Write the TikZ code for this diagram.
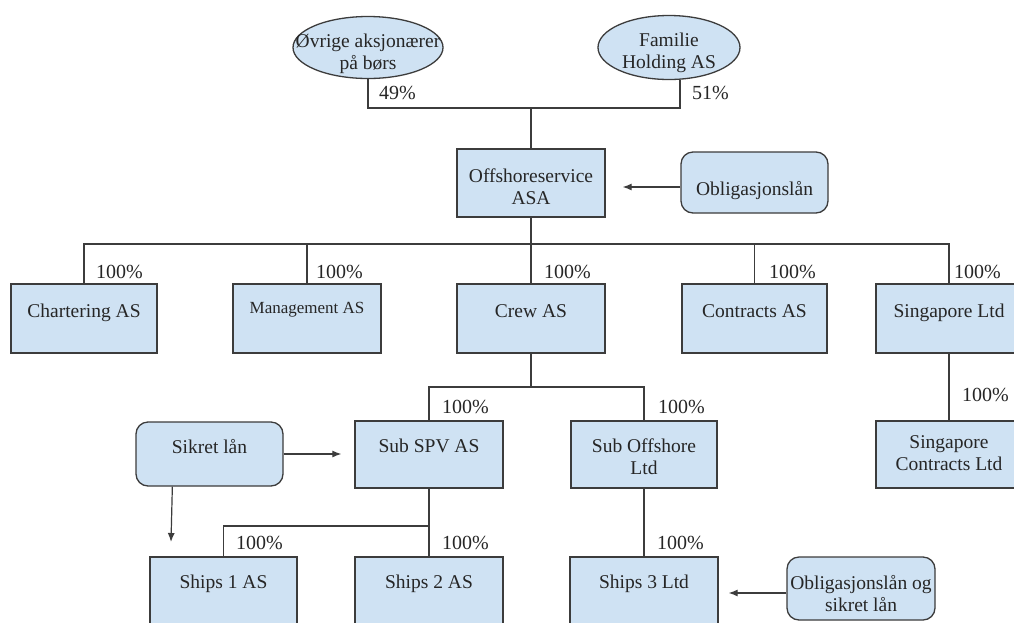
\documentclass[tikz,border=0pt]{standalone}
\usepackage{fontspec}
\setmainfont{Liberation Serif}
\usetikzlibrary{shapes.geometric,arrows.meta,calc}
\definecolor{boxfill}{HTML}{CFE2F3}
\definecolor{edge}{HTML}{3C3C3C}
\definecolor{ink}{HTML}{262626}
\begin{document}
\begin{tikzpicture}[x=1pt,y=-1pt,
  company/.style={draw=edge, line width=1.3pt, fill=boxfill, rectangle, inner sep=0pt,
                  minimum width=148pt, minimum height=68pt},
  lender/.style={company, rounded corners=12pt, minimum height=63pt},
  owner/.style={draw=edge, line width=1.3pt, fill=boxfill, ellipse, inner sep=0pt},
  boxtext/.style={font=\fontsize{19.5}{22}\selectfont, text=ink, align=center, inner sep=0pt,
                  execute at begin node=\strut, execute at end node=\strut},
  share/.style={font=\fontsize{20}{22}\selectfont, text=ink, anchor=west, inner sep=0pt},
  link/.style={draw=edge, line width=1.2pt},
  loan/.style={link, -{Latex[length=9pt,width=7pt]}},
]
\fill[white] (0,0) rectangle (1014,622);
\clip (0,0) rectangle (1014,622);

% owners
\node[owner, minimum width=150pt, minimum height=62pt] (ovr) at (368,47.5) {};
\node[owner, minimum width=142pt, minimum height=64pt] (fam) at (669,47.5) {};

% parent and bond
\node[company] (asa) at (531,183) {};
\node[lender, minimum width=147pt, minimum height=61pt] (obl) at (754.5,182.5) {};

% first level subsidiaries
\node[company, minimum width=146pt, minimum height=69pt] (chart) at (84,318.5) {};
\node[company, minimum height=69pt] (mgmt) at (307,318.5) {};
\node[company, minimum height=69pt] (crew) at (531,318.5) {};
\node[company, minimum width=145pt, minimum height=69pt] (contr) at (754.5,318.5) {};
\node[company, minimum width=146pt, minimum height=69pt] (sing) at (949,318.5) {};

% second level
\node[company, minimum height=67pt] (spv) at (429,454.5) {};
\node[company, minimum width=146pt, minimum height=67pt] (subo) at (644,454.5) {};
\node[company, minimum width=146pt, minimum height=67pt] (singc) at (949,454.5) {};
\node[lender, minimum width=147pt, minimum height=64pt] (sik) at (209.5,454) {};

% ship owning companies
\node[company, minimum width=147pt] (ship1) at (223.5,591) {};
\node[company] (ship2) at (429,591) {};
\node[company] (ship3) at (644,591) {};
\node[lender, minimum width=148pt, minimum height=63pt] (obsik) at (861,588.5) {};

% texts
\node[boxtext] (ovrT) at ($(ovr)+(0,7.5)$) {Øvrige aksjonærer\\på børs};
\node[boxtext] (famT) at ($(fam)+(0,6.5)$) {Familie\\Holding AS};
\node[boxtext] (asaT) at ($(asa)+(0,7)$) {Offshoreservice\\ASA};
\node[boxtext] (oblT) at ($(obl)+(0,8.5)$) {Obligasjonslån};
\node[boxtext] (chartT) at ($(chart)+(0,6.5)$) {Chartering AS\\};
\node[boxtext, font=\fontsize{17}{22}\selectfont] (mgmtT) at ($(mgmt)+(0,3.7)$) {Management AS\\};
\node[boxtext] (crewT) at ($(crew)+(0,6.5)$) {Crew AS\\};
\node[boxtext] (contrT) at ($(contr)+(0,6.5)$) {Contracts AS\\};
\node[boxtext] (singT) at ($(sing)+(0,6.5)$) {Singapore Ltd\\};
\node[boxtext] (spvT) at ($(spv)+(0,5.5)$) {Sub SPV AS\\};
\node[boxtext] (suboT) at ($(subo)+(0,5.5)$) {Sub Offshore\\Ltd};
\node[boxtext] (singcT) at ($(singc)+(0,1.5)$) {Singapore\\Contracts Ltd};
\node[boxtext] (sikT) at ($(sik)+(0,7)$) {Sikret lån\\};
\node[boxtext] (ship1T) at ($(ship1)+(0,5)$) {Ships 1 AS\\};
\node[boxtext] (ship2T) at ($(ship2)+(0,5)$) {Ships 2 AS\\};
\node[boxtext] (ship3T) at ($(ship3)+(0,5)$) {Ships 3 Ltd\\};
\node[boxtext] (obsikT) at ($(obsik)+(0,8.5)$) {Obligasjonslån og\\sikret lån};

% ownership shares
\node[share] (p49) at (379,93) {49\%};
\node[share] (p51) at (692,93) {51\%};
\node[share] (pchart) at (96,272) {100\%};
\node[share] (pmgmt) at (316,272) {100\%};
\node[share] (pcrew) at (544,272) {100\%};
\node[share] (pcontr) at (769,272) {100\%};
\node[share] (psing) at (954,272) {100\%};
\node[share] (pspv) at (442,407) {100\%};
\node[share] (psubo) at (658,407) {100\%};
\node[share] (psingc) at (962,395) {100\%};
\node[share] (pship1) at (236,543) {100\%};
\node[share] (pship2) at (442,543) {100\%};
\node[share] (pship3) at (657,543) {100\%};

% ownership lines
\coordinate (ownj) at (531,108);
\draw[link] (ovr.south) |- (ownj) -| ($(fam.south)+(11,0)$);
\draw[link] (ownj) -- (asa.north);
\coordinate (bus) at (531,244);
\draw[link] (asa.south) -- (crew.north);
\draw[link] (chart.north) |- (bus) -| (sing.north);
\draw[link] (mgmt.north) -- (mgmt.north |- bus);
\draw[link] (contr.north) -- (contr.north |- bus);
\coordinate (crewj) at (531,387);
\draw[link] (crew.south) -- (crewj);
\draw[link] (spv.north) |- (crewj) -| (subo.north);
\draw[link] (sing.south) -- (singc.north);
\coordinate (spvj) at (429,526);
\draw[link] (spv.south) -- (ship2.north);
\draw[link] (ship1.north) |- (spvj);
\draw[link] (subo.south) -- (ship3.north);

% financing arrows
\draw[loan, shorten >=17pt] ($(obl.west)+(0,4.5)$) coordinate (oa) -- (asa.east |- oa);
\draw[loan, shorten >=13pt] (sik.east) -- (sik.east -| spv.west);
\coordinate (sikend) at (171,542);
\draw[loan] ($(sik.south west)+(37,0)$) -- (sikend);
\draw[loan, shorten >=10pt] ($(obsik.west)+(0,4.5)$) coordinate (ob) -- (ship3.east |- ob);
\end{tikzpicture}
\end{document}
